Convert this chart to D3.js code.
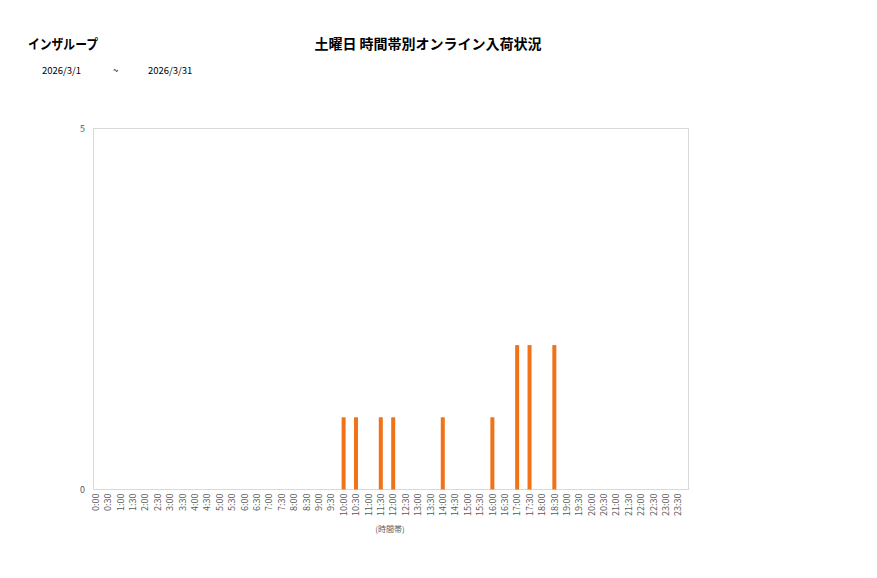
<!DOCTYPE html>
<html>
<head>
<meta charset="utf-8">
<script src="https://cdn.jsdelivr.net/npm/d3@7"></script>
<style>
body { margin: 0; background: #fff; }
text { font-family: "Noto Sans CJK JP", "Noto Sans", sans-serif; }
</style>
</head>
<body>
<div id="chart"></div>
<script>
// time slots 0:00 .. 23:30
var slots = [];
for (var h = 0; h < 24; h++) {
    slots.push(h + ':00');
    slots.push(h + ':30');
}
var barSlots = ['10:00', '10:30', '11:30', '12:00', '14:00', '16:00', '17:00', '17:30', '18:30'];
var barValues = [1, 1, 1, 1, 1, 1, 2, 2, 2];
var yTicks = [0, 5];

var storeName = 'インザループ';
var chartTitle = '土曜日 時間帯別オンライン入荷状況';
var dateFrom = '2026/3/1';
var dateTo = '2026/3/31';
var xTitle = '(時間帯)';

var W = 877, H = 578;
var frame = { left: 93.5, right: 688.5, top: 128.5, bottom: 489.5 };

var svg = d3.select('#chart').append('svg')
    .attr('width', W)
    .attr('height', H);

// header texts
svg.append('text')
    .attr('x', 28).attr('y', 49)
    .attr('font-size', 13.5).attr('font-weight', 'bold').attr('fill', '#000')
    .attr('textLength', 70).attr('lengthAdjust', 'spacingAndGlyphs')
    .text(storeName);
svg.append('text')
    .attr('x', 428).attr('y', 49)
    .attr('text-anchor', 'middle')
    .attr('font-size', 14).attr('font-weight', 'bold').attr('fill', '#000')
    .text(chartTitle);
svg.append('text')
    .attr('x', 42).attr('y', 74)
    .attr('font-size', 9.5).attr('fill', '#000')
    .text(dateFrom);
svg.append('text')
    .attr('x', 113).attr('y', 74)
    .attr('font-size', 9.5).attr('fill', '#000')
    .text('~');
svg.append('text')
    .attr('x', 148).attr('y', 74)
    .attr('font-size', 9.5).attr('fill', '#000')
    .text(dateTo);

var x = d3.scaleBand()
    .domain(slots)
    .range([frame.left - 4, frame.right - 4]);

var y = d3.scaleLinear()
    .domain([0, 5])
    .range([frame.bottom, frame.top]);

// plot frame
svg.append('rect')
    .attr('x', frame.left)
    .attr('y', frame.top)
    .attr('width', frame.right - frame.left)
    .attr('height', frame.bottom - frame.top)
    .style('fill', 'none')
    .style('stroke', '#d9d9d9')
    .style('stroke-width', '1px');

// bars
var barW = 4;
svg.selectAll('rect.bar')
    .data(barSlots)
    .enter().append('rect')
    .attr('class', 'bar')
    .attr('x', function(d) { return x(d) + x.bandwidth() / 2 - barW / 2; })
    .attr('y', function(d, i) { return y(barValues[i]); })
    .attr('width', barW)
    .attr('height', function(d, i) { return y(0) - y(barValues[i]); })
    .style('fill', '#f07219');

// y axis labels
svg.selectAll('text.ytick')
    .data(yTicks)
    .enter().append('text')
    .attr('class', 'ytick')
    .attr('x', 85)
    .attr('y', function(d) { return y(d); })
    .attr('dy', '0.35em')
    .attr('text-anchor', 'end')
    .attr('font-size', 9)
    .attr('fill', '#595959')
    .text(function(d) { return d; });

// x axis labels, vertical
svg.selectAll('text.xtick')
    .data(slots)
    .enter().append('text')
    .attr('class', 'xtick')
    .attr('transform', function(d) {
        return 'translate(' + (x(d) + x.bandwidth() / 2) + ',' + (frame.bottom + 4) + ') rotate(-90)';
    })
    .attr('dy', '0.35em')
    .attr('text-anchor', 'end')
    .attr('font-size', 9)
    .attr('fill', '#595959')
    .text(function(d) { return d; });

// axis title
svg.append('text')
    .attr('x', 390).attr('y', 532)
    .attr('text-anchor', 'middle')
    .attr('font-size', 8)
    .attr('fill', '#595959')
    .text(xTitle);
</script>
</body>
</html>
